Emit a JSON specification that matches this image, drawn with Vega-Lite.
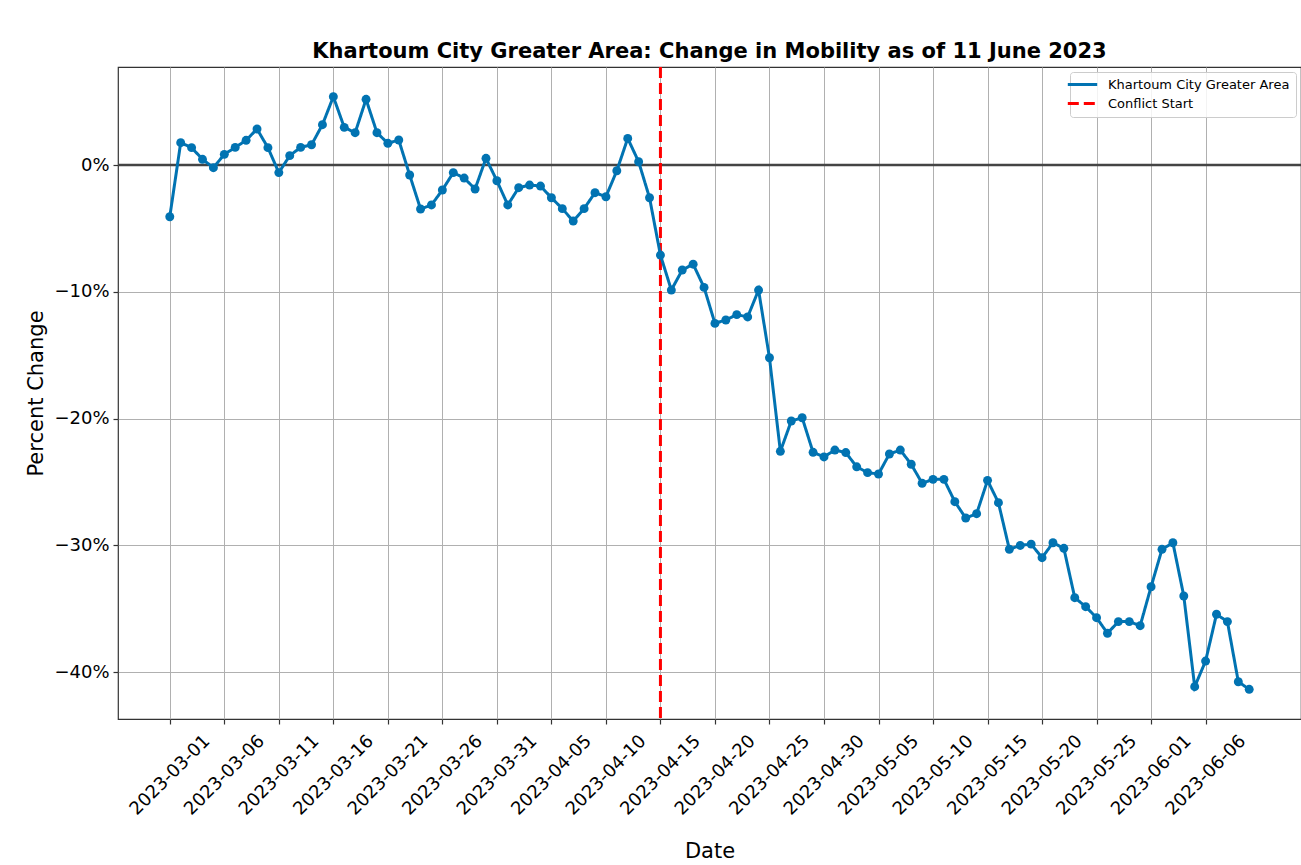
{
  "$schema": "https://vega.github.io/schema/vega-lite/v6.json",
  "width": 1183,
  "height": 652,
  "autosize": {"type": "none"},
  "padding": {"left": 118, "top": 67, "right": 0, "bottom": 146},
  "background": "white",
  "title": {
    "text": "Khartoum City Greater Area: Change in Mobility as of 11 June 2023",
    "font": "DejaVu Sans",
    "fontSize": 21,
    "fontWeight": "bold",
    "color": "#000000",
    "frame": "group",
    "anchor": "middle",
    "baseline": "alphabetic",
    "offset": -13
  },
  "config": {
    "font": "DejaVu Sans",
    "view": {"stroke": "#333333", "strokeWidth": 1.2},
    "axis": {
      "labelFont": "DejaVu Sans",
      "titleFont": "DejaVu Sans",
      "labelFontSize": 18,
      "titleFontSize": 21,
      "titleFontWeight": "normal",
      "labelColor": "#000000",
      "titleColor": "#000000",
      "gridColor": "#b0b0b0",
      "gridWidth": 1,
      "domain": false,
      "tickColor": "#333333",
      "tickSize": 5,
      "tickWidth": 1.2
    },
    "legend": {
      "orient": "top-right",
      "offset": 5,
      "labelFont": "DejaVu Sans",
      "labelFontSize": 13,
      "labelColor": "#000000",
      "labelLimit": 400,
      "fillColor": "rgba(255,255,255,0.85)",
      "strokeColor": "#cccccc",
      "cornerRadius": 3,
      "padding": 6,
      "rowPadding": 5,
      "symbolType": "M-2.94,0H2.94",
      "symbolSize": 100,
      "symbolStrokeWidth": 3,
      "labelOffset": 19
    }
  },
  "layer": [
    {
      "data": {"values": [{"pct": 0}]},
      "mark": {"type": "rule", "color": "#444444", "strokeWidth": 2.5},
      "encoding": {
        "y": {"field": "pct", "type": "quantitative", "title": "Percent Change"}
      }
    },
    {
      "data": {"values": [{"date": "2023-04-15", "series": "Conflict Start"}]},
      "mark": {"type": "rule", "strokeWidth": 3},
      "encoding": {
        "x": {"field": "date", "type": "ordinal", "title": "Date"},
        "color": {"field": "series", "type": "nominal"},
        "strokeDash": {"field": "series", "type": "nominal"}
      }
    },
    {
      "data": {"values": [
        {"date": "2023-03-01", "pct": -4.08, "series": "Khartoum City Greater Area"},
        {"date": "2023-03-02", "pct": 1.76, "series": "Khartoum City Greater Area"},
        {"date": "2023-03-03", "pct": 1.37, "series": "Khartoum City Greater Area"},
        {"date": "2023-03-04", "pct": 0.45, "series": "Khartoum City Greater Area"},
        {"date": "2023-03-05", "pct": -0.21, "series": "Khartoum City Greater Area"},
        {"date": "2023-03-06", "pct": 0.84, "series": "Khartoum City Greater Area"},
        {"date": "2023-03-07", "pct": 1.39, "series": "Khartoum City Greater Area"},
        {"date": "2023-03-08", "pct": 1.95, "series": "Khartoum City Greater Area"},
        {"date": "2023-03-09", "pct": 2.84, "series": "Khartoum City Greater Area"},
        {"date": "2023-03-10", "pct": 1.37, "series": "Khartoum City Greater Area"},
        {"date": "2023-03-11", "pct": -0.6, "series": "Khartoum City Greater Area"},
        {"date": "2023-03-12", "pct": 0.74, "series": "Khartoum City Greater Area"},
        {"date": "2023-03-13", "pct": 1.39, "series": "Khartoum City Greater Area"},
        {"date": "2023-03-14", "pct": 1.6, "series": "Khartoum City Greater Area"},
        {"date": "2023-03-15", "pct": 3.18, "series": "Khartoum City Greater Area"},
        {"date": "2023-03-16", "pct": 5.39, "series": "Khartoum City Greater Area"},
        {"date": "2023-03-17", "pct": 2.97, "series": "Khartoum City Greater Area"},
        {"date": "2023-03-18", "pct": 2.55, "series": "Khartoum City Greater Area"},
        {"date": "2023-03-19", "pct": 5.18, "series": "Khartoum City Greater Area"},
        {"date": "2023-03-20", "pct": 2.55, "series": "Khartoum City Greater Area"},
        {"date": "2023-03-21", "pct": 1.71, "series": "Khartoum City Greater Area"},
        {"date": "2023-03-22", "pct": 1.97, "series": "Khartoum City Greater Area"},
        {"date": "2023-03-23", "pct": -0.79, "series": "Khartoum City Greater Area"},
        {"date": "2023-03-24", "pct": -3.47, "series": "Khartoum City Greater Area"},
        {"date": "2023-03-25", "pct": -3.15, "series": "Khartoum City Greater Area"},
        {"date": "2023-03-26", "pct": -1.97, "series": "Khartoum City Greater Area"},
        {"date": "2023-03-27", "pct": -0.6, "series": "Khartoum City Greater Area"},
        {"date": "2023-03-28", "pct": -1.03, "series": "Khartoum City Greater Area"},
        {"date": "2023-03-29", "pct": -1.89, "series": "Khartoum City Greater Area"},
        {"date": "2023-03-30", "pct": 0.53, "series": "Khartoum City Greater Area"},
        {"date": "2023-03-31", "pct": -1.24, "series": "Khartoum City Greater Area"},
        {"date": "2023-04-01", "pct": -3.15, "series": "Khartoum City Greater Area"},
        {"date": "2023-04-02", "pct": -1.79, "series": "Khartoum City Greater Area"},
        {"date": "2023-04-03", "pct": -1.58, "series": "Khartoum City Greater Area"},
        {"date": "2023-04-04", "pct": -1.66, "series": "Khartoum City Greater Area"},
        {"date": "2023-04-05", "pct": -2.58, "series": "Khartoum City Greater Area"},
        {"date": "2023-04-06", "pct": -3.44, "series": "Khartoum City Greater Area"},
        {"date": "2023-04-07", "pct": -4.42, "series": "Khartoum City Greater Area"},
        {"date": "2023-04-08", "pct": -3.44, "series": "Khartoum City Greater Area"},
        {"date": "2023-04-09", "pct": -2.18, "series": "Khartoum City Greater Area"},
        {"date": "2023-04-10", "pct": -2.5, "series": "Khartoum City Greater Area"},
        {"date": "2023-04-11", "pct": -0.45, "series": "Khartoum City Greater Area"},
        {"date": "2023-04-12", "pct": 2.1, "series": "Khartoum City Greater Area"},
        {"date": "2023-04-13", "pct": 0.26, "series": "Khartoum City Greater Area"},
        {"date": "2023-04-14", "pct": -2.58, "series": "Khartoum City Greater Area"},
        {"date": "2023-04-15", "pct": -7.1, "series": "Khartoum City Greater Area"},
        {"date": "2023-04-16", "pct": -9.86, "series": "Khartoum City Greater Area"},
        {"date": "2023-04-17", "pct": -8.28, "series": "Khartoum City Greater Area"},
        {"date": "2023-04-18", "pct": -7.82, "series": "Khartoum City Greater Area"},
        {"date": "2023-04-19", "pct": -9.65, "series": "Khartoum City Greater Area"},
        {"date": "2023-04-20", "pct": -12.49, "series": "Khartoum City Greater Area"},
        {"date": "2023-04-21", "pct": -12.22, "series": "Khartoum City Greater Area"},
        {"date": "2023-04-22", "pct": -11.8, "series": "Khartoum City Greater Area"},
        {"date": "2023-04-23", "pct": -11.98, "series": "Khartoum City Greater Area"},
        {"date": "2023-04-24", "pct": -9.86, "series": "Khartoum City Greater Area"},
        {"date": "2023-04-25", "pct": -15.2, "series": "Khartoum City Greater Area"},
        {"date": "2023-04-26", "pct": -22.58, "series": "Khartoum City Greater Area"},
        {"date": "2023-04-27", "pct": -20.19, "series": "Khartoum City Greater Area"},
        {"date": "2023-04-28", "pct": -19.93, "series": "Khartoum City Greater Area"},
        {"date": "2023-04-29", "pct": -22.66, "series": "Khartoum City Greater Area"},
        {"date": "2023-04-30", "pct": -23.02, "series": "Khartoum City Greater Area"},
        {"date": "2023-05-01", "pct": -22.48, "series": "Khartoum City Greater Area"},
        {"date": "2023-05-02", "pct": -22.68, "series": "Khartoum City Greater Area"},
        {"date": "2023-05-03", "pct": -23.8, "series": "Khartoum City Greater Area"},
        {"date": "2023-05-04", "pct": -24.26, "series": "Khartoum City Greater Area"},
        {"date": "2023-05-05", "pct": -24.37, "series": "Khartoum City Greater Area"},
        {"date": "2023-05-06", "pct": -22.79, "series": "Khartoum City Greater Area"},
        {"date": "2023-05-07", "pct": -22.48, "series": "Khartoum City Greater Area"},
        {"date": "2023-05-08", "pct": -23.6, "series": "Khartoum City Greater Area"},
        {"date": "2023-05-09", "pct": -25.1, "series": "Khartoum City Greater Area"},
        {"date": "2023-05-10", "pct": -24.79, "series": "Khartoum City Greater Area"},
        {"date": "2023-05-11", "pct": -24.79, "series": "Khartoum City Greater Area"},
        {"date": "2023-05-12", "pct": -26.55, "series": "Khartoum City Greater Area"},
        {"date": "2023-05-13", "pct": -27.84, "series": "Khartoum City Greater Area"},
        {"date": "2023-05-14", "pct": -27.5, "series": "Khartoum City Greater Area"},
        {"date": "2023-05-15", "pct": -24.87, "series": "Khartoum City Greater Area"},
        {"date": "2023-05-16", "pct": -26.63, "series": "Khartoum City Greater Area"},
        {"date": "2023-05-17", "pct": -30.3, "series": "Khartoum City Greater Area"},
        {"date": "2023-05-18", "pct": -30.0, "series": "Khartoum City Greater Area"},
        {"date": "2023-05-19", "pct": -29.9, "series": "Khartoum City Greater Area"},
        {"date": "2023-05-20", "pct": -30.97, "series": "Khartoum City Greater Area"},
        {"date": "2023-05-21", "pct": -29.79, "series": "Khartoum City Greater Area"},
        {"date": "2023-05-22", "pct": -30.23, "series": "Khartoum City Greater Area"},
        {"date": "2023-05-23", "pct": -34.12, "series": "Khartoum City Greater Area"},
        {"date": "2023-05-24", "pct": -34.83, "series": "Khartoum City Greater Area"},
        {"date": "2023-05-25", "pct": -35.7, "series": "Khartoum City Greater Area"},
        {"date": "2023-05-26", "pct": -36.93, "series": "Khartoum City Greater Area"},
        {"date": "2023-05-27", "pct": -36.01, "series": "Khartoum City Greater Area"},
        {"date": "2023-05-28", "pct": -36.01, "series": "Khartoum City Greater Area"},
        {"date": "2023-05-29", "pct": -36.33, "series": "Khartoum City Greater Area"},
        {"date": "2023-06-01", "pct": -33.26, "series": "Khartoum City Greater Area"},
        {"date": "2023-06-02", "pct": -30.31, "series": "Khartoum City Greater Area"},
        {"date": "2023-06-03", "pct": -29.79, "series": "Khartoum City Greater Area"},
        {"date": "2023-06-04", "pct": -33.99, "series": "Khartoum City Greater Area"},
        {"date": "2023-06-05", "pct": -41.14, "series": "Khartoum City Greater Area"},
        {"date": "2023-06-06", "pct": -39.12, "series": "Khartoum City Greater Area"},
        {"date": "2023-06-07", "pct": -35.43, "series": "Khartoum City Greater Area"},
        {"date": "2023-06-08", "pct": -36.01, "series": "Khartoum City Greater Area"},
        {"date": "2023-06-09", "pct": -40.75, "series": "Khartoum City Greater Area"},
        {"date": "2023-06-10", "pct": -41.35, "series": "Khartoum City Greater Area"}
      ]},
      "mark": {"type": "line", "strokeWidth": 3, "point": {"filled": true, "size": 80}},
      "encoding": {
        "x": {
          "field": "date",
          "type": "ordinal",
          "title": "Date",
          "scale": {
            "type": "point",
            "padding": 0.75,
            "domain": ["2023-02-25", "2023-02-26", "2023-02-27", "2023-02-28",
              "2023-03-01", "2023-03-02", "2023-03-03", "2023-03-04", "2023-03-05", "2023-03-06", "2023-03-07", "2023-03-08", "2023-03-09", "2023-03-10",
              "2023-03-11", "2023-03-12", "2023-03-13", "2023-03-14", "2023-03-15", "2023-03-16", "2023-03-17", "2023-03-18", "2023-03-19", "2023-03-20",
              "2023-03-21", "2023-03-22", "2023-03-23", "2023-03-24", "2023-03-25", "2023-03-26", "2023-03-27", "2023-03-28", "2023-03-29", "2023-03-30", "2023-03-31",
              "2023-04-01", "2023-04-02", "2023-04-03", "2023-04-04", "2023-04-05", "2023-04-06", "2023-04-07", "2023-04-08", "2023-04-09", "2023-04-10",
              "2023-04-11", "2023-04-12", "2023-04-13", "2023-04-14", "2023-04-15", "2023-04-16", "2023-04-17", "2023-04-18", "2023-04-19", "2023-04-20",
              "2023-04-21", "2023-04-22", "2023-04-23", "2023-04-24", "2023-04-25", "2023-04-26", "2023-04-27", "2023-04-28", "2023-04-29", "2023-04-30",
              "2023-05-01", "2023-05-02", "2023-05-03", "2023-05-04", "2023-05-05", "2023-05-06", "2023-05-07", "2023-05-08", "2023-05-09", "2023-05-10",
              "2023-05-11", "2023-05-12", "2023-05-13", "2023-05-14", "2023-05-15", "2023-05-16", "2023-05-17", "2023-05-18", "2023-05-19", "2023-05-20",
              "2023-05-21", "2023-05-22", "2023-05-23", "2023-05-24", "2023-05-25", "2023-05-26", "2023-05-27", "2023-05-28", "2023-05-29",
              "2023-06-01", "2023-06-02", "2023-06-03", "2023-06-04", "2023-06-05", "2023-06-06", "2023-06-07", "2023-06-08", "2023-06-09", "2023-06-10",
              "2023-06-11", "2023-06-12", "2023-06-13", "2023-06-14"]
          },
          "axis": {
            "values": ["2023-03-01", "2023-03-06", "2023-03-11", "2023-03-16", "2023-03-21", "2023-03-26", "2023-03-31", "2023-04-05", "2023-04-10", "2023-04-15", "2023-04-20", "2023-04-25", "2023-04-30", "2023-05-05", "2023-05-10", "2023-05-15", "2023-05-20", "2023-05-25", "2023-06-01", "2023-06-06"],
            "labelAngle": 315,
            "labelAlign": "center",
            "labelBaseline": "middle",
            "labelPadding": 51,
            "labelDx": -2,
            "labelOverlap": false,
            "labelBound": false,
            "labelFlush": false,
            "grid": true,
            "titlePadding": 22
          }
        },
        "y": {
          "field": "pct",
          "type": "quantitative",
          "title": "Percent Change",
          "scale": {"domain": [-43.69, 7.73], "nice": false, "zero": false},
          "axis": {
            "values": [-40, -30, -20, -10, 0],
            "labelExpr": "format(datum.value, 'd') + '%'",
            "labelPadding": 4,
            "titlePadding": 7,
            "grid": true
          }
        },
        "color": {
          "field": "series",
          "type": "nominal",
          "scale": {"domain": ["Khartoum City Greater Area", "Conflict Start"], "range": ["#0173b2", "#ff0000"]},
          "legend": {"title": null}
        },
        "strokeDash": {
          "field": "series",
          "type": "nominal",
          "scale": {"domain": ["Khartoum City Greater Area", "Conflict Start"], "range": [[1, 0], [11, 5]]},
          "legend": {"title": null}
        }
      }
    }
  ]
}
